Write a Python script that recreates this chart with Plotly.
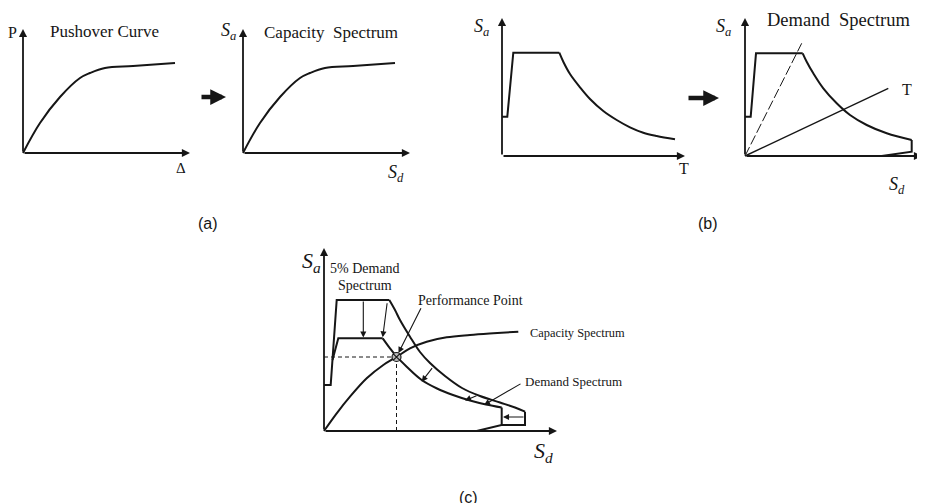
import plotly.graph_objects as go

W, H = 925, 503          # browser window
OFF = 8                  # default page margin around the plot div
FW, FH = W - OFF, H - OFF
PX = 10  # screen pixels per schematic unit
INK = "#161616"
SERIF = "Liberation Serif, Times New Roman, serif"
SANS = "Liberation Sans, Arial, sans-serif"

# ---------------- data (schematic units) ----------------
# (a) pushover curve  P vs Delta, and capacity spectrum Sa vs Sd (same shape)
push_d = [0, 1.7, 3.7, 5.7, 6.7, 8.2, 11.0, 15.2]
push_p = [0, 3.0, 5.6, 7.5, 8.0, 8.5, 8.7, 9.0]

# (b) elastic response spectrum Sa vs T
specT_flat_x = [0, 0.53, 1.13, 5.73]
specT_flat_y = [3.93, 3.93, 10.33, 10.33]
specT_tail_x = [5.73, 6.13, 6.8, 7.8, 8.8, 10.13, 11.47, 12.8, 14.13, 15.47, 17.3]
specT_tail_y = [10.33, 9.43, 8.2, 6.87, 5.7, 4.5, 3.6, 2.87, 2.33, 2.0, 1.67]

# (b) demand spectrum Sa vs Sd (ADRS)
adrs_flat_x = [0, 0.57, 1.1, 5.77]
adrs_flat_y = [3.93, 3.93, 10.27, 10.27]
adrs_curve_x = [5.77, 6.17, 6.83, 7.83, 9.17, 10.5, 12.17, 14.17, 16.67]
adrs_curve_y = [10.27, 9.43, 8.27, 6.77, 5.27, 4.1, 3.1, 2.27, 1.6]
adrs_end_x = [16.67, 16.67, 13.67]
adrs_end_y = [1.6, 0.43, 0.0]
period_short = [0, 5.67], [0, 11.27]
period_T = [0, 14.33], [0, 6.77]

# (c) 5% demand spectrum, reduced demand spectrum, capacity spectrum
d5_flat_x = [0, 0.67, 1.27, 6.53]
d5_flat_y = [4.6, 4.6, 13.1, 13.1]
d5_curve_x = [6.53, 7.1, 7.6, 8.6, 9.6, 10.6, 12.1, 13.8, 15.6, 17.6, 19.1, 20.1]
d5_curve_y = [13.1, 12.1, 11.1, 9.43, 7.9, 6.8, 5.5, 4.3, 3.5, 2.85, 2.35, 1.93]
d5_end_x = [20.1, 20.1, 17.77]
d5_end_y = [1.93, 0.6, 0.6]

dr_flat_x = [0.85, 1.43, 5.87]
dr_flat_y = [7.1, 9.27, 9.27]
dr_curve_x = [5.87, 6.6, 7.27, 8.27, 9.77, 11.3, 12.9, 14.6, 16.2, 17.77]
dr_curve_y = [9.27, 8.27, 7.43, 6.43, 5.1, 4.25, 3.6, 3.05, 2.65, 2.35]
dr_end_x = [17.77, 17.77, 15.27]
dr_end_y = [2.35, 0.6, 0.0]

capc_sd = [0, 1.27, 2.6, 4.27, 5.93, 7.25, 8.6, 10.27, 12.27, 14.6, 16.93, 19.43]
capc_sa = [0, 1.77, 3.43, 5.27, 6.6, 7.4, 8.27, 8.93, 9.37, 9.6, 9.77, 9.93]
perf_point = (7.25, 7.4)

# ---------------- panels: origin in screen px, ranges in units ----------------
panels = {
    1: dict(origin=(23, 153), xr=(-1.5, 17.5), yr=(-3.0, 13.5), xlen=16.7, ylen=12.4),
    2: dict(origin=(243, 153), xr=(-2.2, 17.5), yr=(-3.0, 13.5), xlen=16.7, ylen=12.4),
    3: dict(origin=(502, 156), xr=(-3.0, 19.0), yr=(-2.5, 14.0), xlen=18.3, ylen=13.8),
    4: dict(origin=(745, 156), xr=(-3.0, 17.9), yr=(-4.0, 14.3), xlen=17.7, ylen=13.8),
    5: dict(origin=(324, 431), xr=(-2.2, 24.0), yr=(-3.0, 19.0), xlen=23.3, ylen=18.3),
}

fig = go.Figure()
layout = dict(width=FW, height=FH, margin=dict(l=0, r=0, t=0, b=0),
              paper_bgcolor="white", plot_bgcolor="rgba(0,0,0,0)",
              showlegend=False)
annotations = []


def ax_names(i):
    return ("x" if i == 1 else f"x{i}"), ("y" if i == 1 else f"y{i}")


for i, p in panels.items():
    ox, oy = p["origin"]
    xd = [(ox - OFF + p["xr"][0] * PX) / FW, (ox - OFF + p["xr"][1] * PX) / FW]
    yd = [1 - (oy - OFF - p["yr"][0] * PX) / FH, 1 - (oy - OFF - p["yr"][1] * PX) / FH]
    xd = [max(0, xd[0]), min(1, xd[1])]
    yd = [max(0, yd[0]), min(1, yd[1])]
    xn, yn = ax_names(i)
    kx = "xaxis" if i == 1 else f"xaxis{i}"
    ky = "yaxis" if i == 1 else f"yaxis{i}"
    layout[kx] = dict(domain=xd, range=list(p["xr"]), visible=False, anchor=yn, fixedrange=True)
    layout[ky] = dict(domain=yd, range=list(p["yr"]), visible=False, anchor=xn, fixedrange=True)
    # axes with arrowheads
    for (x1, y1) in [(p["xlen"], 0), (0, p["ylen"])]:
        annotations.append(dict(x=x1, y=y1, ax=0, ay=0, xref=xn, yref=yn, axref=xn, ayref=yn,
                                text="", showarrow=True, arrowhead=2, arrowsize=0.9,
                                arrowwidth=1.8, arrowcolor=INK))


def line(i, x, y, width=2.0, shape="linear", dash="solid"):
    xn, yn = ax_names(i)
    fig.add_trace(go.Scatter(x=x, y=y, mode="lines", xaxis=xn, yaxis=yn,
                             line=dict(color=INK, width=width, shape=shape, dash=dash),
                             hoverinfo="skip"))


def arrow(i, x0, y0, x1, y1, width=1.1, size=1.1):
    xn, yn = ax_names(i)
    annotations.append(dict(x=x1, y=y1, ax=x0, ay=y0, xref=xn, yref=yn, axref=xn, ayref=yn,
                            text="", showarrow=True, arrowhead=2, arrowsize=size,
                            arrowwidth=width, arrowcolor=INK))


def label(i, x, y, text, size=16, family=SERIF, xanchor="center"):
    xn, yn = ax_names(i)
    annotations.append(dict(x=x, y=y, xref=xn, yref=yn, text=text, showarrow=False,
                            xanchor=xanchor, yanchor="middle",
                            font=dict(family=family, size=size, color=INK)))


# (a)
line(1, push_d, push_p, shape="spline")
line(2, push_d, push_p, shape="spline")
label(1, -1.1, 12.1, "P", size=16)
label(1, 8.1, 12.2, "Pushover Curve", size=17)
label(1, 15.8, -1.5, "Δ", size=15)
label(2, -1.5, 12.2, "<i>S<sub>a</sub></i>", size=18)
label(2, 8.8, 12.1, "Capacity  Spectrum", size=17)
label(2, 15.3, -2.0, "<i>S<sub>d</sub></i>", size=18)

# (b) left
line(3, specT_flat_x, specT_flat_y)
line(3, specT_tail_x, specT_tail_y, shape="spline")
label(3, -2.1, 12.8, "<i>S<sub>a</sub></i>", size=18)
label(3, 18.2, -1.2, "T", size=16)

# (b) right
line(4, adrs_flat_x, adrs_flat_y)
line(4, adrs_curve_x, adrs_curve_y, shape="spline")
line(4, adrs_end_x, adrs_end_y)
line(4, period_short[0], period_short[1], width=1.0, dash="10px,3px")
line(4, period_T[0], period_T[1], width=1.4)
label(4, -2.2, 12.8, "<i>S<sub>a</sub></i>", size=18)
label(4, 9.3, 13.6, "Demand  Spectrum", size=18.5)
label(4, 16.2, 6.6, "T", size=16)
label(4, 15.2, -3.0, "<i>S<sub>d</sub></i>", size=18)

# (c)
line(5, d5_flat_x, d5_flat_y)
line(5, d5_curve_x, d5_curve_y, shape="spline")
line(5, d5_end_x, d5_end_y)
line(5, dr_flat_x, dr_flat_y)
line(5, dr_curve_x, dr_curve_y, shape="spline")
line(5, dr_end_x, dr_end_y)
line(5, capc_sd, capc_sa, shape="spline")
line(5, [0, perf_point[0]], [perf_point[1], perf_point[1]], width=1.0, dash="4px,3px")
line(5, [perf_point[0], perf_point[0]], [perf_point[1], 0], width=1.0, dash="4px,3px")
fig.add_trace(go.Scatter(x=[perf_point[0]], y=[perf_point[1]], mode="markers",
                         xaxis="x5", yaxis="y5", hoverinfo="skip",
                         marker=dict(size=9, color="#b8b8b8", symbol="circle-x",
                                     line=dict(color=INK, width=1.2))))
arrow(5, 3.93, 13.1, 3.93, 9.35)
arrow(5, 6.33, 12.93, 5.87, 9.37)
arrow(5, 10.93, 6.43, 9.77, 4.93)
arrow(5, 15.4, 3.6, 14.1, 3.05)
arrow(5, 20.1, 1.4, 17.9, 1.4)
arrow(5, 19.8, 4.8, 16.0, 2.6)
arrow(5, 9.77, 12.43, 7.45, 7.8)
label(5, -1.3, 16.9, "<i>S<sub>a</sub></i>", size=22)
label(5, 4.1, 16.3, "5% Demand", size=14)
label(5, 4.1, 14.6, "Spectrum", size=14)
label(5, 14.6, 13.1, "Performance Point", size=14)
label(5, 20.4, 9.8, "Capacity Spectrum", size=12.4, xanchor="left")
label(5, 19.9, 5.0, "Demand Spectrum", size=13, xanchor="left")
label(5, 21.9, -2.1, "<i>S<sub>d</sub></i>", size=22)

# bold transition arrows and captions (paper space; tail given as pixel offset)
for (x0, x1, yy) in [(200, 226, 97), (687, 719, 98)]:
    annotations.append(dict(x=(x1 - OFF) / FW, y=1 - (yy - OFF) / FH, ax=-(x1 - x0), ay=0,
                            xref="paper", yref="paper", axref="pixel", ayref="pixel",
                            text="", showarrow=True, arrowhead=2, arrowsize=0.7,
                            arrowwidth=4.5, arrowcolor=INK))
for (cx, cy, t) in [(208, 223, "(a)"), (708, 223, "(b)"), (468, 497, "(c)")]:
    annotations.append(dict(x=(cx - OFF) / FW, y=1 - (cy - OFF) / FH, xref="paper", yref="paper",
                            text=t, showarrow=False, xanchor="center", yanchor="middle",
                            font=dict(family=SANS, size=16, color=INK)))

layout["annotations"] = annotations
fig.update_layout(**layout)
fig.write_html("out.html")
